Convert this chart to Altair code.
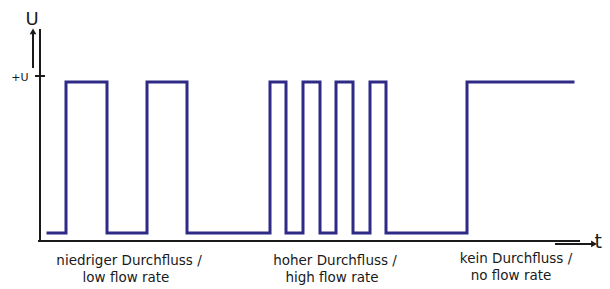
import altair as alt
import pandas as pd

# signal: step-after points (time, voltage)
sig_t = [8, 26, 67, 107, 147, 230, 246, 263, 280, 296, 313, 330, 346, 427, 533]
sig_v = [0.048, 0.964, 0.048, 0.964, 0.048, 0.964, 0.048, 0.964, 0.048, 0.964, 0.048, 0.964, 0.048, 0.964, 0.964]

label_text = ["niedriger Durchfluss /", "low flow rate",
              "hoher Durchfluss /", "high flow rate",
              "kein Durchfluss /", "no flow rate"]
label_t = [89, 86, 295, 292, 476, 471]
label_v = [-0.124, -0.227, -0.124, -0.227, -0.112, -0.215]

XD = [-32, 562]
YD = [-0.291, 1.412]
xs = alt.Scale(domain=XD, nice=False, zero=False)
ys = alt.Scale(domain=YD, nice=False, zero=False)

def X(f="t"):
    return alt.X(f"{f}:Q", scale=xs, axis=None)

def Y(f="v"):
    return alt.Y(f"{f}:Q", scale=ys, axis=None)

sig = pd.DataFrame({"t": sig_t, "v": sig_v})
signal = alt.Chart(sig).mark_line(interpolate="step-after", color="#2e2a86",
                                  strokeWidth=3, strokeJoin="miter", strokeCap="square").encode(x=X(), y=Y())

segs = pd.DataFrame({
    "t": [0, -2, 515, -7, -5],
    "t2": [0, 540, 553, -7, 5],
    "v": [0, 0, -0.018, 1.048, 1.0],
    "v2": [1.285, 0, -0.018, 1.262, 1.0],
})
axes = alt.Chart(segs).mark_rule(color="#1a1a1a", strokeWidth=2).encode(
    x=X(), x2="t2:Q", y=Y(), y2="v2:Q")

heads = pd.DataFrame({"t": [554, -7], "v": [-0.018, 1.27], "s": ["triangle-right", "triangle-up"]})
arrows = alt.Chart(heads).mark_point(filled=True, color="#1a1a1a", size=45, opacity=1).encode(
    x=X(), y=Y(), shape=alt.Shape("s:N", scale=None))

uT = pd.DataFrame({"txt": ["U"], "t": [-8], "v": [1.312]})
utext = alt.Chart(uT).mark_text(font="DejaVu Sans", fontSize=18, color="#1a1a1a",
                                baseline="alphabetic", align="center").encode(x=X(), y=Y(), text="txt:N")

tT = pd.DataFrame({"txt": ["t"], "t": [562], "v": [-0.006]})
ttext = alt.Chart(tT).mark_text(font="DejaVu Sans", fontSize=19, color="#1a1a1a",
                                baseline="middle", align="right").encode(x=X(), y=Y(), text="txt:N")

plus = pd.DataFrame({"txt": ["+U"], "t": [-20], "v": [0.99]})
plustext = alt.Chart(plus).mark_text(font="DejaVu Sans", fontSize=11, color="#1a1a1a",
                                     baseline="middle", align="center").encode(x=X(), y=Y(), text="txt:N")

lab = pd.DataFrame({"txt": label_text, "t": label_t, "v": label_v})
labels = alt.Chart(lab).mark_text(font="DejaVu Sans", fontSize=13.5, color="#1a1a1a",
                                  baseline="middle", align="center").encode(x=X(), y=Y(), text="txt:N")

chart = alt.layer(axes, signal, arrows, utext, ttext, plustext, labels).properties(
    width=594, height=281, padding=0, autosize=alt.AutoSizeParams(type="none")
).configure_view(stroke=None)

chart.save("out.html", embed_options={"renderer": "svg", "actions": False})
